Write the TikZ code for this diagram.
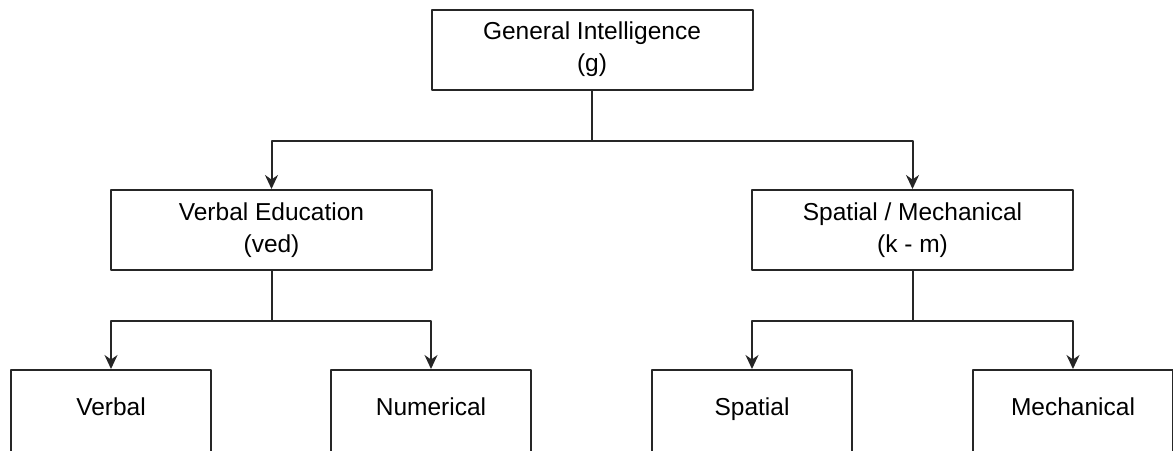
\documentclass[tikz,border=0pt]{standalone}
\usepackage{fontspec}
\setmainfont{Liberation Sans}
\usetikzlibrary{arrows.meta}
\begin{document}
\begin{tikzpicture}[x=1pt, y=-1pt, line join=round, >={Stealth[length=14pt,width=13pt]},
	box/.style={draw=black!85, line width=2pt, fill=white, minimum width=321pt, minimum height=80pt, inner sep=0pt, align=center, font=\fontsize{24.5}{32}\selectfont},
	leaf/.style={box, minimum width=200pt, minimum height=82pt, text height=16pt, text depth=7pt},
	link/.style={draw=black!85, line width=2pt}]
	\useasboundingbox (0,0) rectangle (1173,450);
	\clip (0,0) rectangle (1173,450);
	% boxes
	\node[box] (G) at (592,49.5) {General Intelligence\\(g)};
	\node[box] (VED) at (271.5,230) {Verbal Education\\(ved)};
	\node[box] (KM) at (912.5,230) {Spatial / Mechanical\\(k - m)};
	\node[leaf] (VB) at (111,411) {Verbal};
	\node[leaf] (NU) at (431,411) {Numerical};
	\node[leaf] (SP) at (752,411) {Spatial};
	\node[leaf] (ME) at (1073,411) {Mechanical};
	% connectors
	\draw[link] (G.south) -- ++(0,50) coordinate (j1);
	\draw[link,->] (j1) -| (VED.north);
	\draw[link,->] (j1) -| (KM.north);
	\draw[link] (VED.south) -- ++(0,50) coordinate (j2);
	\draw[link,->] (j2) -| (VB.north);
	\draw[link,->] (j2) -| (NU.north);
	\draw[link] (KM.south) -- ++(0,50) coordinate (j3);
	\draw[link,->] (j3) -| (SP.north);
	\draw[link,->] (j3) -| (ME.north);
\end{tikzpicture}
\end{document}
